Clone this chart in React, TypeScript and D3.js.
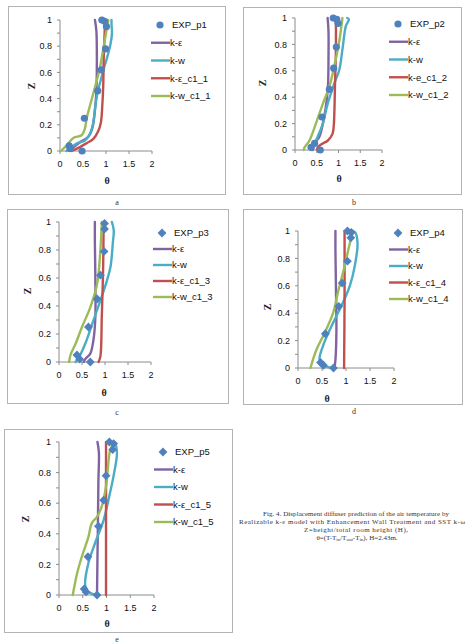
import React from "react"
import * as d3 from "d3"

type Pt = [number, number] // [theta, Z]

// ---- p1 ----
const expP1: Pt[] = [[0.48, 0], [0.22, 0.02], [0.2, 0.04], [0.53, 0.25], [0.82, 0.46], [0.9, 0.62], [0.99, 0.78], [1.01, 0.95], [0.97, 0.99], [0.91, 1]]
const keP1: Pt[] = [[0.2, 0], [0.3, 0.03], [0.45, 0.07], [0.62, 0.11], [0.7, 0.17], [0.74, 0.25], [0.77, 0.35], [0.79, 0.45], [0.8, 0.6], [0.8, 0.8], [0.79, 0.92], [0.76, 1]]
const kwP1: Pt[] = [[0.14, 0], [0.25, 0.03], [0.38, 0.06], [0.54, 0.08], [0.65, 0.13], [0.72, 0.21], [0.76, 0.32], [0.82, 0.45], [0.9, 0.56], [0.96, 0.64], [1.03, 0.72], [1.1, 0.82], [1.13, 0.9], [1.12, 0.97], [1.12, 1]]
const keC1P1: Pt[] = [[0.25, 0], [0.43, 0.03], [0.58, 0.06], [0.72, 0.09], [0.83, 0.15], [0.89, 0.22], [0.92, 0.35], [0.94, 0.5], [0.95, 0.7], [0.97, 0.9], [0.98, 1]]
const kwC1P1: Pt[] = [[0.02, 0], [0.15, 0.045], [0.29, 0.1], [0.47, 0.12], [0.54, 0.17], [0.58, 0.25], [0.67, 0.37], [0.77, 0.5], [0.87, 0.64], [0.95, 0.8], [1.02, 0.94], [1.05, 1]]

// ---- p2 ----
const expP2: Pt[] = [[0.58, 0], [0.37, 0.02], [0.45, 0.05], [0.62, 0.25], [0.79, 0.46], [0.89, 0.62], [0.95, 0.78], [0.99, 0.96], [0.96, 0.99], [0.88, 1]]
const keP2: Pt[] = [[0.41, 0], [0.45, 0.05], [0.56, 0.1], [0.67, 0.25], [0.73, 0.38], [0.76, 0.5], [0.77, 0.7], [0.77, 0.9], [0.75, 1]]
const kwP2: Pt[] = [[0.37, 0], [0.41, 0.02], [0.52, 0.1], [0.64, 0.2], [0.75, 0.35], [0.9, 0.5], [1.02, 0.61], [1.09, 0.76], [1.17, 0.94], [1.24, 0.99], [1.2, 1]]
const keC1P2: Pt[] = [[0.51, 0], [0.52, 0.02], [0.64, 0.05], [0.75, 0.07], [0.86, 0.12], [0.89, 0.18], [0.92, 0.5], [0.94, 0.76], [0.94, 1]]
const kwC1P2: Pt[] = [[0.2, 0], [0.22, 0.02], [0.33, 0.07], [0.48, 0.2], [0.64, 0.35], [0.79, 0.48], [0.9, 0.63], [1.02, 0.83], [1.09, 1]]

// ---- p3 ----
const expP3: Pt[] = [[0.68, 0], [0.45, 0.02], [0.39, 0.05], [0.64, 0.25], [0.83, 0.45], [0.9, 0.62], [0.98, 0.79], [0.99, 0.95], [0.99, 0.99]]
const keP3: Pt[] = [[0.54, 0], [0.57, 0.02], [0.68, 0.06], [0.75, 0.16], [0.79, 0.32], [0.79, 0.6], [0.78, 0.85], [0.78, 1]]
const kwP3: Pt[] = [[0.36, 0], [0.46, 0.05], [0.57, 0.13], [0.72, 0.27], [0.9, 0.44], [1.04, 0.58], [1.12, 0.68], [1.17, 0.85], [1.19, 0.94], [1.15, 1]]
const keC1P3: Pt[] = [[0.86, 0], [0.9, 0.04], [0.93, 0.32], [0.96, 0.68], [0.97, 1]]
const kwC1P3: Pt[] = [[0.22, 0], [0.25, 0.05], [0.36, 0.13], [0.5, 0.25], [0.68, 0.39], [0.83, 0.56], [0.9, 0.8], [0.93, 1]]

// ---- p4 ----
const expP4: Pt[] = [[0.74, 0], [0.53, 0.02], [0.47, 0.04], [0.57, 0.25], [0.85, 0.45], [0.92, 0.62], [1.03, 0.78], [1.1, 0.95], [1.11, 0.99], [1.03, 1]]
const keP4: Pt[] = [[0.76, 0], [0.78, 0.06], [0.8, 0.26], [0.79, 0.6], [0.78, 0.85], [0.78, 1]]
const kwP4: Pt[] = [[0.69, 0], [0.54, 0.02], [0.45, 0.06], [0.52, 0.16], [0.69, 0.3], [0.9, 0.45], [1.08, 0.6], [1.18, 0.74], [1.24, 0.91], [1.19, 0.99], [1.08, 1]]
const keC1P4: Pt[] = [[0.96, 0], [0.97, 0.5], [0.97, 1]]
const kwC1P4: Pt[] = [[0.26, 0], [0.31, 0.06], [0.38, 0.13], [0.56, 0.26], [0.73, 0.4], [0.83, 0.55], [0.97, 0.74], [1.08, 0.91], [1.15, 1]]

// ---- p5 ----
const expP5: Pt[] = [[0.8, 0], [0.57, 0.02], [0.53, 0.04], [0.61, 0.25], [0.83, 0.45], [0.94, 0.62], [0.99, 0.78], [1.13, 0.95], [1.15, 0.99], [1.06, 1]]
const keP5: Pt[] = [[0.8, 0], [0.81, 0.25], [0.82, 0.49], [0.83, 0.75], [0.84, 0.93], [0.81, 1]]
const kwP5: Pt[] = [[0.76, 0], [0.59, 0.03], [0.55, 0.07], [0.62, 0.21], [0.76, 0.34], [0.94, 0.49], [1.04, 0.62], [1.15, 0.78], [1.22, 0.93], [1.18, 0.99], [1.08, 1]]
const keC1P5: Pt[] = [[0.99, 0], [0.99, 0.5], [0.99, 1]]
const kwC1P5: Pt[] = [[0.29, 0], [0.38, 0.14], [0.48, 0.25], [0.62, 0.38], [0.69, 0.47], [0.8, 0.51], [0.9, 0.58], [0.99, 0.71], [1.08, 0.95], [1.15, 0.99]]

const namesP1 = ["EXP_p1", "k-ε", "k-w", "k-ε_c1_1", "k-w_c1_1"]
const namesP2 = ["EXP_p2", "k-ε", "k-w", "k-e_c1_2", "k-w_c1_2"]
const namesP3 = ["EXP_p3", "k-ε", "k-w", "k-ε_c1_3", "k-w_c1_3"]
const namesP4 = ["EXP_p4", "k-ε", "k-w", "k-ε_c1_4", "k-w_c1_4"]
const namesP5 = ["EXP_p5", "k-ε", "k-w", "k-ε_c1_5", "k-w_c1_5"]

const thetaTicks = [0, 0.5, 1, 1.5, 2]
const zTicks = [0, 0.2, 0.4, 0.6, 0.8, 1]
const zMinor = [0, 0.1, 0.2, 0.3, 0.4, 0.5, 0.6, 0.7, 0.8, 0.9, 1]

const colors = ["#4F81BD", "#8064A2", "#4BACC6", "#C0504D", "#9BBB59"]

const captionLines = [
    "Fig. 4. Displacement diffuser prediction of the air temperature by",
    "Realizable k-ε model with Enhancement Wall Treatment and SST k-ω",
    "Z=height/total room height (H),",
]

const sans = "'Liberation Sans', Arial, sans-serif"
const serif = "'Liberation Serif', 'Times New Roman', serif"

// layout of each chart box on the page
const panels = [
    {id: "a", box: [8, 6, 225, 194], x: [60, 152], y: [151, 20], leg: [151, 25, 17.75], zLab: [31, 86], thLab: [107, 180], cap: [117, 205], marker: "circle", series: [expP1, keP1, kwP1, keC1P1, kwC1P1], names: namesP1},
    {id: "b", box: [243, 7, 461, 194], x: [295, 382], y: [150, 18], leg: [389, 24, 17.75], zLab: [262, 83], thLab: [339, 178], cap: [354, 205], marker: "circle", series: [expP2, keP2, kwP2, keC1P2, kwC1P2], names: namesP2},
    {id: "c", box: [7, 209, 228, 403], x: [59, 151], y: [362, 222], leg: [153, 233, 16], zLab: [27, 291], thLab: [104, 392], cap: [117, 415], marker: "diamond", series: [expP3, keP3, kwP3, keC1P3, kwC1P3], names: namesP3},
    {id: "d", box: [243, 209, 462, 404], x: [298, 394], y: [368, 231], leg: [389, 233, 16.5], zLab: [267, 307], thLab: [327, 398], cap: [354, 414], marker: "diamond", series: [expP4, keP4, kwP4, keC1P4, kwC1P4], names: namesP4},
    {id: "e", box: [4, 429, 232, 632], x: [59, 154], y: [595, 442], leg: [154, 452, 17.5], zLab: [25, 519], thLab: [107, 623], cap: [117, 642], marker: "diamond", series: [expP5, keP5, kwP5, keC1P5, kwC1P5], names: namesP5},
]

const Marker = ({kind, cx, cy, color}) =>
    kind === "circle"
        ? <circle cx={cx} cy={cy} r={3.6} fill={color}/>
        : <path d={`M${cx},${cy - 4.4}L${cx + 4.4},${cy}L${cx},${cy + 4.4}L${cx - 4.4},${cy}Z`} fill={color}/>

const Panel = ({p}) => {
    const x = d3.scaleLinear().domain([0, 2]).range(p.x)
    const y = d3.scaleLinear().domain([0, 1]).range(p.y)
    const line = d3.line<Pt>()
        .x(d => x(d[0]))
        .y(d => y(d[1]))
        .curve(d3.curveCatmullRom.alpha(0.5))
    const [bx0, by0, bx1, by1] = p.box
    const [lx, ly, ldy] = p.leg

    return (
        <g>
            <rect x={bx0 + 0.5} y={by0 + 0.5} width={bx1 - bx0} height={by1 - by0}
                  fill="#fff" stroke="#b4b4b4" strokeWidth={1}/>

            {/* axes */}
            <line x1={x(0)} x2={x(0)} y1={y(0)} y2={y(1)} stroke="#8c8c8c"/>
            <line x1={x(0)} x2={x(2)} y1={y(0)} y2={y(0)} stroke="#8c8c8c"/>
            {zMinor.map(t =>
                <line key={t} x1={x(0) - 3} x2={x(0)} y1={y(t)} y2={y(t)} stroke="#8c8c8c"/>
            )}
            {thetaTicks.map(t =>
                <line key={t} x1={x(t)} x2={x(t)} y1={y(0)} y2={y(0) + 3} stroke="#8c8c8c"/>
            )}
            {zTicks.map(t =>
                <text key={t} x={x(0) - 8} y={y(t) + 3.2} textAnchor="end"
                      fontFamily={sans} fontSize={9} fill="#111">{t}</text>
            )}
            {thetaTicks.map(t =>
                <text key={t} x={x(t)} y={y(0) + 16} textAnchor="middle"
                      fontFamily={sans} fontSize={9} fill="#111">{t}</text>
            )}
            <text transform={`translate(${p.zLab[0]},${p.zLab[1]}) rotate(-90)`} textAnchor="middle"
                  dy="0.35em" fontFamily={serif} fontWeight="bold" fontSize={10} fill="#222">Z</text>
            <text x={p.thLab[0]} y={p.thLab[1]} textAnchor="middle" dy="0.35em"
                  fontFamily={serif} fontWeight="bold" fontSize={10} fill="#222">θ</text>

            {/* model curves */}
            {p.series.slice(1).map((s, i) =>
                <path key={i} d={line(s)} fill="none" stroke={colors[i + 1]}
                      strokeWidth={2.4} strokeLinejoin="round" strokeLinecap="round"/>
            )}
            {/* measurements */}
            {p.series[0].map((d, i) =>
                <Marker key={i} kind={p.marker} cx={x(d[0])} cy={y(d[1])} color={colors[0]}/>
            )}

            {/* legend */}
            {p.names.map((n, i) => (
                <g key={n} transform={`translate(${lx},${ly + i * ldy})`}>
                    {i === 0
                        ? <Marker kind={p.marker} cx={9} cy={0} color={colors[0]}/>
                        : <line x1={0} x2={19} y1={0} y2={0} stroke={colors[i]} strokeWidth={2.4}/>}
                    <text x={i === 0 ? 21 : 19} y={3.4} fontFamily={sans} fontSize={9.5} fill="#111">{n}</text>
                </g>
            ))}

            <text x={p.cap[0]} y={p.cap[1]} textAnchor="middle" fontFamily={serif}
                  fontSize={8} fill="#333">{p.id}</text>
        </g>
    )
}

// widths of the figure-note lines
const captionWidths = [186, 226, 104]

export default function App() {
    return (
        <svg width={468} height={643} style={{position: "absolute", left: 0, top: 0, background: "#fff"}}>
            {panels.map(p => <Panel key={p.id} p={p}/>)}
            <g fontFamily={serif} fontSize={7} fill="#333" textAnchor="middle">
                {captionLines.map((t, i) =>
                    <text key={i} x={i === 1 ? 352 : 356} y={516 + i * 8}
                          textLength={captionWidths[i]} lengthAdjust="spacing">{t}</text>
                )}
                <text x={357} y={516 + 3 * 8}>
                    θ=(T-T<tspan fontSize={5} dy={1.2}>in</tspan>
                    <tspan dy={-1.2}>/T</tspan><tspan fontSize={5} dy={1.2}>out</tspan>
                    <tspan dy={-1.2}>-T</tspan><tspan fontSize={5} dy={1.2}>in</tspan>
                    <tspan dy={-1.2}>), H=2.43m.</tspan>
                </text>
            </g>
        </svg>
    )
}
